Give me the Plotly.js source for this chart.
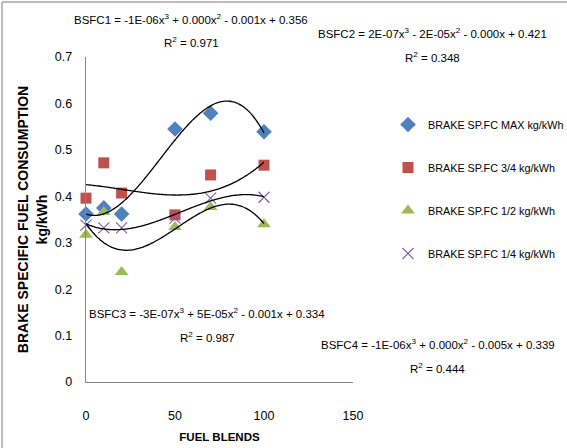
<!DOCTYPE html>
<html>
<head>
<meta charset="utf-8">
<script src="https://cdn.plot.ly/plotly-3.0.1.min.js"></script>
<style>
html,body{margin:0;padding:0;background:#fff;}
#chart{width:567px;height:448px;}
</style>
</head>
<body>
<div id="chart"></div>
<script>
// ---- data ----
const blends = [0, 10, 20, 50, 70, 100];
const bsfcMax = [0.362, 0.375, 0.362, 0.545, 0.579, 0.539];
const bsfc34  = [0.396, 0.472, 0.407, 0.360, 0.446, 0.467];
const bsfc12  = [0.317, 0.366, 0.237, 0.334, 0.377, 0.340];
const bsfc14  = [0.338, 0.332, 0.332, 0.353, 0.396, 0.398];
const seriesNames = ['BRAKE SP.FC MAX kg/kWh', 'BRAKE SP.FC 3/4 kg/kWh', 'BRAKE SP.FC 1/2 kg/kWh', 'BRAKE SP.FC 1/4 kg/kWh'];
const eqLabels = [
  'BSFC1 = -1E-06x<sup>3</sup> + 0.000x<sup>2</sup> - 0.001x + 0.356',
  'BSFC2 = 2E-07x<sup>3</sup> - 2E-05x<sup>2</sup> - 0.000x + 0.421',
  'BSFC3 = -3E-07x<sup>3</sup> + 5E-05x<sup>2</sup> - 0.001x + 0.334',
  'BSFC4 = -1E-06x<sup>3</sup> + 0.000x<sup>2</sup> - 0.005x + 0.339'
];
const r2Labels = ['R<sup>2</sup> = 0.971', 'R<sup>2</sup> = 0.348', 'R<sup>2</sup> = 0.987', 'R<sup>2</sup> = 0.444'];
const xTicks = [0, 50, 100, 150];
const yTicks = [0, 0.1, 0.2, 0.3, 0.4, 0.5, 0.6, 0.7];

// ---- cubic least-squares trendline ----
function cubicFit(xs, ys) {
  const n = 4;
  const A = [], b = [];
  for (let i = 0; i < n; i++) {
    A.push(new Array(n).fill(0)); b.push(0);
    for (let k = 0; k < xs.length; k++) {
      for (let j = 0; j < n; j++) A[i][j] += Math.pow(xs[k], i + j);
      b[i] += ys[k] * Math.pow(xs[k], i);
    }
  }
  for (let c = 0; c < n; c++) {
    let p = c;
    for (let r = c + 1; r < n; r++) if (Math.abs(A[r][c]) > Math.abs(A[p][c])) p = r;
    [A[c], A[p]] = [A[p], A[c]]; [b[c], b[p]] = [b[p], b[c]];
    for (let r = c + 1; r < n; r++) {
      const f = A[r][c] / A[c][c];
      for (let j = c; j < n; j++) A[r][j] -= f * A[c][j];
      b[r] -= f * b[c];
    }
  }
  const coef = new Array(n).fill(0);
  for (let r = n - 1; r >= 0; r--) {
    let s = b[r];
    for (let j = r + 1; j < n; j++) s -= A[r][j] * coef[j];
    coef[r] = s / A[r][r];
  }
  return coef;
}
function trend(ys) {
  const c = cubicFit(blends, ys);
  const xs = [], out = [];
  const lo = Math.min(...blends), hi = Math.max(...blends);
  for (let i = 0; i <= 100; i++) {
    const x = lo + (hi - lo) * i / 100;
    xs.push(x);
    out.push(c[0] + c[1] * x + c[2] * x * x + c[3] * x * x * x);
  }
  return {x: xs, y: out};
}

const FONT = 'Liberation Sans, Arial, sans-serif';
const allSeries = [bsfcMax, bsfc34, bsfc12, bsfc14];
const markers = [
  {symbol: 'diamond', color: '#4F81BD', size: 12},
  {symbol: 'square', color: '#C0504D', size: 11},
  {symbol: 'triangle-up', color: '#9BBB59', size: 12},
  {symbol: 'x-thin', color: '#8064A2', size: 11, line: {color: '#8064A2', width: 1.2}}
];

const traces = [];
allSeries.forEach((ys, i) => {
  traces.push({
    x: blends, y: ys, type: 'scatter', mode: 'markers', name: seriesNames[i],
    marker: markers[i], legendgroup: 'g' + i, cliponaxis: false
  });
});
allSeries.forEach((ys, i) => {
  const t = trend(ys);
  traces.push({
    x: t.x, y: t.y, type: 'scatter', mode: 'lines', showlegend: false,
    line: {color: '#000', width: 1.3, shape: 'spline'}, hoverinfo: 'skip'
  });
});

// pixel -> paper helpers (plot area 86..353 x, 57..382 y)
const L = 86, R = 353, T = 57, B = 382;
const px = v => (v - L) / (R - L);
const py = v => (B - v) / (B - T);

const eqPos = [[191, 19, 42], [432, 33, 57], [207, 313, 337], [438, 344, 368]];
const annotations = [];
eqLabels.forEach((t, i) => {
  annotations.push({
    text: t, xref: 'paper', yref: 'paper', x: px(eqPos[i][0]), y: py(eqPos[i][1]),
    xanchor: 'center', yanchor: 'middle', showarrow: false,
    font: {family: FONT, size: 11.5, color: '#000'}
  });
  annotations.push({
    text: r2Labels[i], xref: 'paper', yref: 'paper', x: px(eqPos[i][0]), y: py(eqPos[i][2]),
    xanchor: 'center', yanchor: 'middle', showarrow: false,
    font: {family: FONT, size: 11.5, color: '#000'}
  });
});

const layout = {
  width: 567, height: 448,
  margin: {l: L, r: 567 - R, t: T, b: 448 - B, pad: 0, autoexpand: false},
  paper_bgcolor: '#fff', plot_bgcolor: '#fff',
  font: {family: FONT, size: 12, color: '#000'},
  showlegend: true,
  legend: {
    x: px(388), y: py(110), xanchor: 'left', yanchor: 'top',
    traceorder: 'grouped', tracegroupgap: 24, itemwidth: 30,
    font: {family: FONT, size: 10.8, color: '#000'}, bgcolor: 'rgba(0,0,0,0)'
  },
  xaxis: {
    range: [0, 150], tickvals: xTicks, ticktext: xTicks.map(String),
    showgrid: false, zeroline: false, showline: true, linecolor: '#868686', linewidth: 1.3,
    ticks: '', ticklabelstandoff: 22, tickfont: {family: FONT, size: 12.5},
    title: {text: '<b>FUEL BLENDS</b>', font: {family: FONT, size: 11.5}, standoff: 10},
    fixedrange: true
  },
  yaxis: {
    range: [0, 0.7], tickvals: yTicks, ticktext: yTicks.map(v => String(v)),
    showgrid: false, zeroline: false, showline: true, linecolor: '#868686', linewidth: 1.3,
    ticks: '', ticklabelstandoff: 10, tickfont: {family: FONT, size: 12.5},
    title: {text: '<b>BRAKE SPECIFIC FUEL CONSUMPTION<br>kg/kWh</b>', font: {family: FONT, size: 14}, standoff: 4},
    fixedrange: true
  },
  shapes: [
    {type: 'line', xref: 'paper', yref: 'paper', x0: px(2), x1: px(567), y0: py(2), y1: py(2), line: {color: '#a6a6a6', width: 1.5}},
    {type: 'line', xref: 'paper', yref: 'paper', x0: px(2), x1: px(2), y0: py(2), y1: py(448), line: {color: '#a6a6a6', width: 1.5}}
  ],
  annotations: annotations
};

Plotly.newPlot('chart', traces, layout, {displayModeBar: false, staticPlot: true});
</script>
</body>
</html>
